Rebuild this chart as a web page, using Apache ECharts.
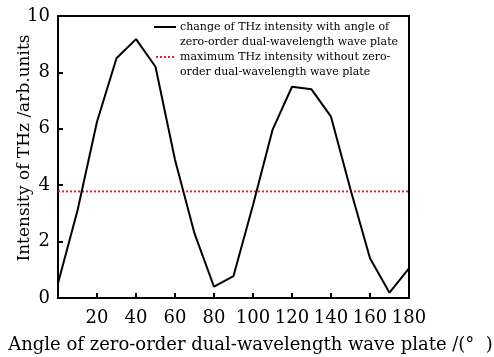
<!DOCTYPE html>
<html>
<head>
<meta charset="utf-8">
<script src="https://cdn.jsdelivr.net/npm/echarts@6/dist/echarts.min.js"></script>
<style>
  html, body { margin: 0; padding: 0; background: #fff; }
  #chart { width: 494px; height: 357px; }
</style>
</head>
<body>
<div id="chart"></div>
<script>
// Rotation angle of the wave plate (degrees)
const angles = [0, 10, 20, 30, 40, 50, 60, 70, 80, 90, 100, 110, 120, 130, 140, 150, 160, 170, 180];
// THz intensity measured at each angle (arb. units)
const intensity = [0.52, 3.1, 6.25, 8.5, 9.18, 8.2, 4.9, 2.29, 0.4, 0.78, 3.3, 5.96, 7.49, 7.4, 6.43, 3.85, 1.41, 0.19, 1.05];
// Reference level: maximum intensity without the wave plate
const refLevel = 3.78;
const refSpan = [0, 180];

const legendLabels = [
  'change of THz intensity with angle of\nzero-order dual-wavelength wave plate',
  'maximum THz intensity without zero-\norder dual-wavelength wave plate'
];

const FONT = 'DejaVu Serif';

const chart = echarts.init(document.getElementById('chart'), null, { renderer: 'canvas' });

const axisCommon = {
  axisLine: { show: true, onZero: false, lineStyle: { color: '#000', width: 2 } },
  axisTick: { show: true, inside: true, length: 5, lineStyle: { color: '#000', width: 2 } },
  splitLine: { show: false },
  axisLabel: { color: '#000', fontFamily: FONT, fontSize: 18 },
  nameTextStyle: { color: '#000', fontFamily: FONT, fontSize: 18 }
};

chart.setOption({
  animation: false,
  backgroundColor: '#fff',
  grid: {
    left: 58, right: 85, top: 16, bottom: 59,
    show: true, borderColor: '#000', borderWidth: 2,
    containLabel: false, outerBoundsMode: 'none'
  },
  xAxis: Object.assign({}, axisCommon, {
    type: 'value', min: 0, max: 180, interval: 20,
    name: 'Angle of zero-order dual-wavelength wave plate /(°  )',
    nameLocation: 'middle', nameGap: 38,
    nameTextStyle: Object.assign({}, axisCommon.nameTextStyle, { padding: [0, 0, 0, 34] }),
    axisLabel: Object.assign({}, axisCommon.axisLabel, {
      margin: 11,
      formatter: v => (v === 0 ? '' : String(v))
    })
  }),
  yAxis: Object.assign({}, axisCommon, {
    type: 'value', min: 0, max: 10, interval: 2,
    name: 'Intensity of THz /arb.units',
    nameLocation: 'middle', nameGap: 25, nameMoveOverlap: false,
    nameTextStyle: Object.assign({}, axisCommon.nameTextStyle, { fontSize: 17, padding: [0, 0, 0, 18] }),
    axisLabel: Object.assign({}, axisCommon.axisLabel, { margin: 8 })
  }),
  series: [
    {
      name: legendLabels[0],
      type: 'line',
      data: angles.map((a, i) => [a, intensity[i]]),
      symbol: 'none',
      lineStyle: { color: '#000', width: 2 },
      z: 3
    },
    {
      name: legendLabels[1],
      type: 'line',
      data: refSpan.map(a => [a, refLevel]),
      symbol: 'none',
      lineStyle: { color: '#e8242a', width: 2, type: [2, 2] },
      z: 2
    }
  ],
  graphic: [
    { type: 'line', shape: { x1: 154, y1: 27, x2: 176, y2: 27 }, style: { stroke: '#000', lineWidth: 2 } },
    { type: 'text', left: 180, top: 19.5, style: { text: legendLabels[0], font: '11px "DejaVu Serif"', fill: '#000', lineHeight: 15 } },
    { type: 'line', shape: { x1: 156, y1: 57, x2: 176, y2: 57 }, style: { stroke: '#e8242a', lineWidth: 2, lineDash: [2, 2] } },
    { type: 'text', left: 180, top: 49.5, style: { text: legendLabels[1], font: '11px "DejaVu Serif"', fill: '#000', lineHeight: 15 } }
  ]
});
</script>
</body>
</html>
